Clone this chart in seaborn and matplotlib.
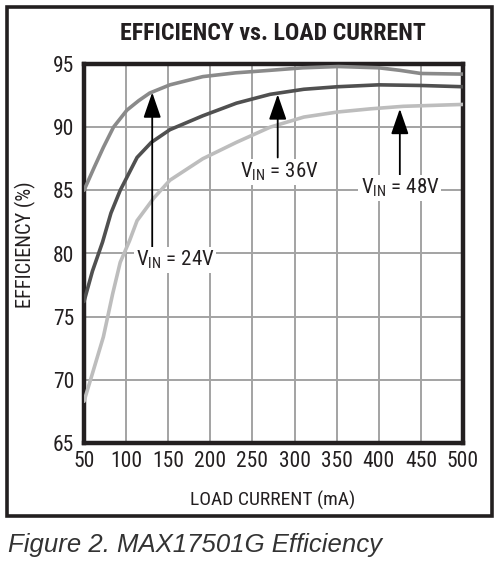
import matplotlib
matplotlib.use('Agg')
import matplotlib.pyplot as plt
import matplotlib.patheffects as pe
import seaborn as sns
import pandas as pd
from matplotlib import font_manager as fm
from matplotlib.patches import Rectangle

# ---- data ----
load_24 = [50, 62, 73, 85, 101, 115, 128, 152, 191, 230, 271, 310, 352, 400, 425, 450, 500]
eff_24 = [85.0, 86.8, 88.4, 90.0, 91.35, 92.1, 92.7, 93.35, 94.0, 94.3, 94.5, 94.7, 94.8, 94.7, 94.5, 94.25, 94.2]

load_36 = [50, 60, 72, 82, 93, 113, 130, 152, 191, 231, 271, 311, 351, 400, 450, 500]
eff_36 = [76.2, 78.6, 80.9, 83.2, 85.0, 87.6, 88.8, 89.8, 90.9, 91.9, 92.6, 93.0, 93.2, 93.35, 93.3, 93.2]

load_48 = [50, 60, 73, 84, 93, 104, 113, 133, 152, 191, 231, 271, 311, 351, 390, 429, 500]
eff_48 = [68.3, 70.5, 73.4, 76.8, 79.3, 81.0, 82.6, 84.4, 85.8, 87.5, 88.8, 90.0, 90.8, 91.2, 91.45, 91.65, 91.8]

series_names = ['24V', '36V', '48V']
series_colors = ['#8a8a8a', '#505050', '#bdbdbd']
label_texts = [r'$\mathregular{V_{IN}}$ = 24V', r'$\mathregular{V_{IN}}$ = 36V', r'$\mathregular{V_{IN}}$ = 48V']
arrow_x = [131, 280, 425]
arrow_tip = [92.75, 92.6, 91.45]
arrow_base = [80.4, 87.6, 86.2]
label_x = [158, 282, 425]
label_y = [79.5, 86.45, 85.2]

x_ticks = [50, 100, 150, 200, 250, 300, 350, 400, 450, 500]
y_ticks = [65, 70, 75, 80, 85, 90, 95]

title_text = 'EFFICIENCY vs. LOAD CURRENT'
x_label = 'LOAD CURRENT (mA)'
y_label = 'EFFICIENCY (%)'
caption = 'Figure 2. MAX17501G Efficiency'

# ---- style ----
sns.set_theme(style='white')


def _w(f):
    w = f.weight
    if isinstance(w, str):
        w = {'normal': 400, 'regular': 400, 'book': 400, 'medium': 500,
             'semibold': 600, 'demibold': 600, 'bold': 700, 'heavy': 800,
             'extra bold': 800, 'black': 900, 'light': 300}.get(w.lower(), 400)
    return w


def _ok(f):
    return ('Mono' not in f.name and 'Serif' not in f.name
            and 'italic' not in f.style and 'oblique' not in f.style)


named = [f for f in fm.fontManager.ttflist
         if _ok(f) and ('Narrow' in f.name or 'Condensed' in f.name)]
named.sort(key=lambda f: (0 if 'Roboto' in f.name else 1 if 'Narrow' in f.name else 2))

cond_name = None
if named:
    cond_name = named[0].name
scale = 1.0 if cond_name else 0.86
if cond_name is None:
    cond_name = 'Liberation Sans'

# bold face of the same family, if present
same_bold = [f for f in fm.fontManager.ttflist
             if _ok(f) and f.name == cond_name and _w(f) >= 600]
fake_bold = not same_bold

plt.rcParams['font.family'] = [cond_name, 'DejaVu Sans']
plt.rcParams['mathtext.fontset'] = 'custom'
plt.rcParams['mathtext.rm'] = cond_name
plt.rcParams['mathtext.default'] = 'regular'
ink = '#231f20'

df = pd.concat([
    pd.DataFrame({'load': load_24, 'eff': eff_24, 'vin': series_names[0]}),
    pd.DataFrame({'load': load_36, 'eff': eff_36, 'vin': series_names[1]}),
    pd.DataFrame({'load': load_48, 'eff': eff_48, 'vin': series_names[2]}),
], ignore_index=True)

fig = plt.figure(figsize=(5.01, 5.64), dpi=100)
fig.patch.set_facecolor('white')
ax = fig.add_axes([84 / 501, 1 - 443 / 564, 379 / 501, 379 / 564])

sns.lineplot(data=df, x='load', y='eff', hue='vin',
             palette=dict(zip(series_names, series_colors)),
             linewidth=2.6, legend=False, estimator=None, ax=ax, zorder=3)

ax.set_xlim(50, 500)
ax.set_ylim(65, 95)
ax.set_xticks(x_ticks)
ax.set_yticks(y_ticks)
ax.grid(True, color='#a3a3a3', linewidth=1.4)
ax.set_axisbelow(True)
for s in ax.spines.values():
    s.set_visible(True)
    s.set_color(ink)
    s.set_linewidth(3.2)
ax.tick_params(length=0, labelsize=15.5 * scale, colors=ink)
ax.tick_params(axis='x', pad=6)
ax.tick_params(axis='y', pad=7)
ax.set_xlabel(x_label, fontsize=14 * scale, color=ink)
ax.set_ylabel(y_label, fontsize=14 * scale * 1.05, color=ink)
ax.xaxis.set_label_coords(0.499, -0.127)
ax.yaxis.set_label_coords(-0.127, 0.522)

for i in range(3):
    ax.annotate('', xy=(arrow_x[i], arrow_tip[i]), xytext=(arrow_x[i], arrow_base[i]),
                arrowprops=dict(arrowstyle='-|>,head_length=1.3,head_width=0.45',
                                color='black', lw=1.3, shrinkA=0, shrinkB=0),
                zorder=5)
    ax.text(label_x[i], label_y[i], label_texts[i], ha='center', va='center',
            fontsize=15 * scale, color=ink, zorder=6,
            bbox=dict(facecolor='white', edgecolor='none', pad=1.5))

title = fig.text(273 / 501, 1 - 34 / 564, title_text, ha='center', va='center',
                 fontsize=17, fontweight='bold', color=ink)
if fake_bold:
    title.set_path_effects([pe.withStroke(linewidth=1.6, foreground=ink)])
fig.canvas.draw()
bb = title.get_window_extent()
if bb.width > 0:
    title.set_fontsize(17 * min(1.25, 306.0 / bb.width))

fig.patches.append(Rectangle((7 / 501, 48 / 564), 485 / 501, 509 / 564,
                             transform=fig.transFigure, fill=False,
                             edgecolor=ink, linewidth=2.6))
fig.text(8 / 501, 1 - 545 / 564, caption, ha='left', va='center',
         fontsize=18.5, style='italic', color='#333333',
         family=['Liberation Sans', 'DejaVu Sans'])

fig.savefig('out.png', dpi=100, facecolor='white')
